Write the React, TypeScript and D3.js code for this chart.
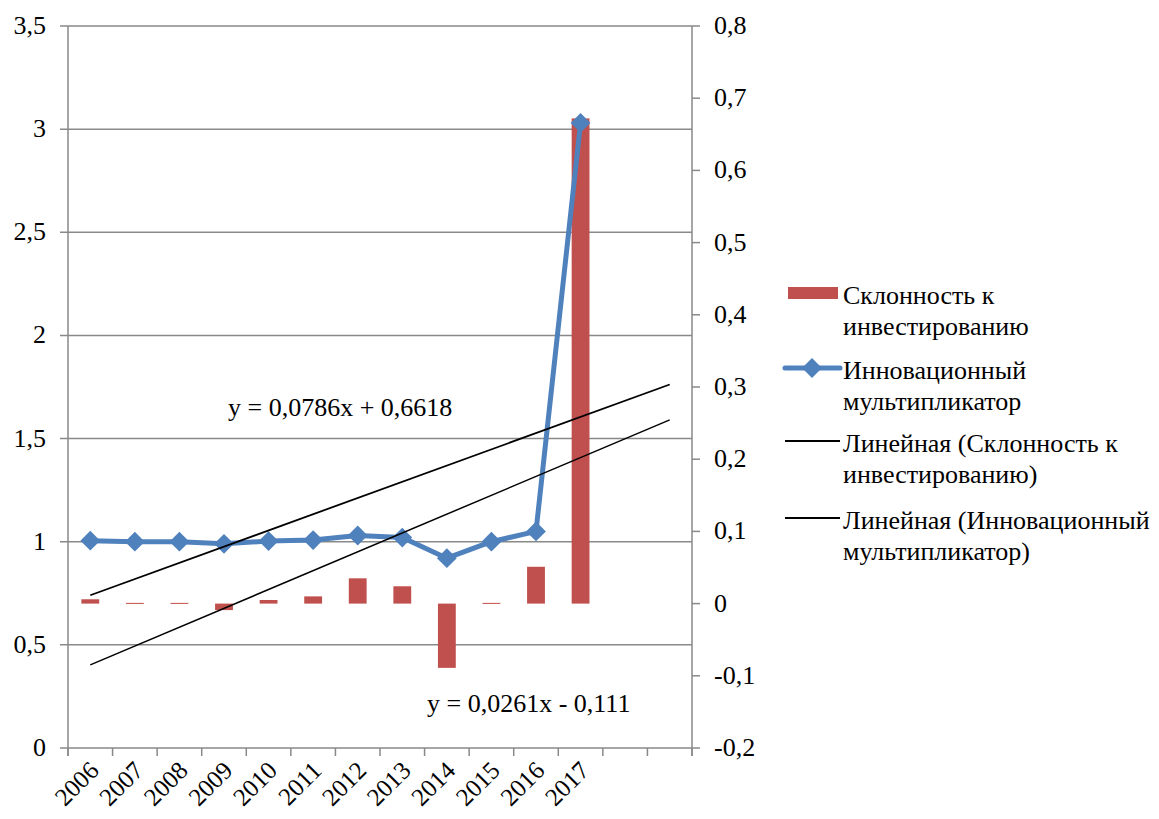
import React from "react";
import * as d3 from "d3";

const categories = ["2006","2007","2008","2009","2010","2011","2012","2013","2014","2015","2016","2017","",""];
const years = ["2006","2007","2008","2009","2010","2011","2012","2013","2014","2015","2016","2017"];
const propensity = [0.006,0.001,0.001,-0.009,0.005,0.01,0.035,0.024,-0.089,0.001,0.051,0.672];
const multiplier = [1.005,1.0,1.0,0.99,1.003,1.008,1.03,1.02,0.92,1.0,1.05,3.03];
const leftTicks = [0,0.5,1,1.5,2,2.5,3,3.5];
const rightTicks = [-0.2,-0.1,0,0.1,0.2,0.3,0.4,0.5,0.6,0.7,0.8];
const trendMult = { slope: 0.0786, intercept: 0.6618, label: "y = 0,0786x + 0,6618" };
const trendProp = { slope: 0.0261, intercept: -0.111, label: "y = 0,0261x - 0,111" };
const legendItems = [
  { kind: "bar", lines: ["Склонность к", "инвестированию"] },
  { kind: "marker", lines: ["Инновационный", "мультипликатор"] },
  { kind: "line", lines: ["Линейная (Склонность к", "инвестированию)"] },
  { kind: "line", lines: ["Линейная (Инновационный", "мультипликатор)"] },
];

const W = 1159, H = 819;
const X0 = 68, X1 = 692, Y0 = 748, Y1 = 26;
const RED = "#C0504D", BLUE = "#4F81BD", GRID = "#898989";
const FONT = "'Liberation Serif', 'Times New Roman', Times, serif";
const FS = 26;
const fmt = (v: number) => String(Math.round(v * 10) / 10).replace(".", ",");
const ts = { fontFamily: FONT, fontSize: FS, fill: "#000" } as React.CSSProperties;
const tsX = { fontFamily: FONT, fontSize: 25, fill: "#000" } as React.CSSProperties;

export default function App() {
  const x = d3.scaleBand<string>().domain(categories.map((c, i) => String(i))).range([X0, X1]).paddingInner(0).paddingOuter(0);
  const yL = d3.scaleLinear().domain([0, 3.5]).range([Y0, Y1]);
  const yR = d3.scaleLinear().domain([-0.2, 0.8]).range([Y0, Y1]);
  const bw = x.bandwidth();
  const cx = (i: number) => (x(String(i)) as number) + bw / 2;
  const barW = bw * 0.4;

  const line = d3.line<number>().x((_, i) => cx(i)).y((d) => yL(d));
  const diamond = d3.symbol().type(d3.symbolDiamond2).size(250)();

  const tM = [1, categories.length].map((k) => ({ px: cx(k - 1), py: yL(trendMult.intercept + trendMult.slope * k) }));
  const tP = [1, categories.length].map((k) => ({ px: cx(k - 1), py: yR(trendProp.intercept + trendProp.slope * k) }));

  return (
    <svg width={W} height={H} style={{ position: "absolute", left: 0, top: 0, background: "#fff", fontFamily: FONT }}>
      {leftTicks.map((t) => (
        <g key={"g" + t}>
          <line x1={X0 - 8} x2={X1} y1={yL(t)} y2={yL(t)} stroke={GRID} strokeWidth={1.5} />
          <text x={46} y={yL(t) + 8} textAnchor="end" style={ts}>{fmt(t)}</text>
        </g>
      ))}
      <line x1={X0} x2={X0} y1={Y1} y2={Y0 + 8} stroke={GRID} strokeWidth={1.5} />
      <line x1={X1} x2={X1} y1={Y1} y2={Y0 + 8} stroke={GRID} strokeWidth={1.5} />
      {rightTicks.map((t) => (
        <g key={"r" + t}>
          <line x1={X1} x2={X1 + 8} y1={yR(t)} y2={yR(t)} stroke={GRID} strokeWidth={1.5} />
          <text x={714} y={yR(t) + 8} style={ts}>{fmt(t)}</text>
        </g>
      ))}
      {d3.range(categories.length + 1).map((i) => (
        <line key={"xt" + i} x1={X0 + i * bw} x2={X0 + i * bw} y1={Y0} y2={Y0 + 8} stroke={GRID} strokeWidth={1.5} />
      ))}
      {years.map((c, i) => (
        <text key={"xl" + c} transform={`translate(${cx(i) + 10},${Y0 + 24}) rotate(-45)`} textAnchor="end" style={tsX}>{c}</text>
      ))}
      {propensity.map((v, i) => {
        const y0 = yR(0), y1 = yR(v);
        return <rect key={"b" + i} x={cx(i) - barW / 2} width={barW} y={Math.min(y0, y1)} height={Math.max(1, Math.abs(y1 - y0))} fill={RED} />;
      })}
      <path d={line(multiplier) || ""} fill="none" stroke={BLUE} strokeWidth={5} strokeLinejoin="round" />
      {multiplier.map((v, i) => (
        <path key={"m" + i} d={diamond || ""} transform={`translate(${cx(i)},${yL(v)})`} fill={BLUE} />
      ))}
      <line x1={tM[0].px} y1={tM[0].py} x2={tM[1].px} y2={tM[1].py} stroke="#000" strokeWidth={1.8} />
      <line x1={tP[0].px} y1={tP[0].py} x2={tP[1].px} y2={tP[1].py} stroke="#000" strokeWidth={1.5} />
      <text x={228} y={416} style={ts}>{trendMult.label}</text>
      <text x={427} y={712} style={ts}>{trendProp.label}</text>
      {legendItems.map((it, k) => {
        const top = [304, 379, 452, 529][k];
        const sy = top - 11;
        return (
          <g key={"lg" + k}>
            {it.kind === "bar" && <rect x={788} y={sy - 6} width={50} height={12} fill={RED} />}
            {it.kind === "marker" && (
              <g>
                <line x1={785} x2={840} y1={sy} y2={sy} stroke={BLUE} strokeWidth={5} strokeLinecap="round" />
                <path d={diamond || ""} transform={`translate(${812},${sy})`} fill={BLUE} />
              </g>
            )}
            {it.kind === "line" && <line x1={785} x2={840} y1={sy} y2={sy} stroke="#000" strokeWidth={1.8} />}
            {it.lines.map((t, j) => (
              <text key={j} x={843} y={top + j * 31} style={ts}>{t}</text>
            ))}
          </g>
        );
      })}
    </svg>
  );
}
